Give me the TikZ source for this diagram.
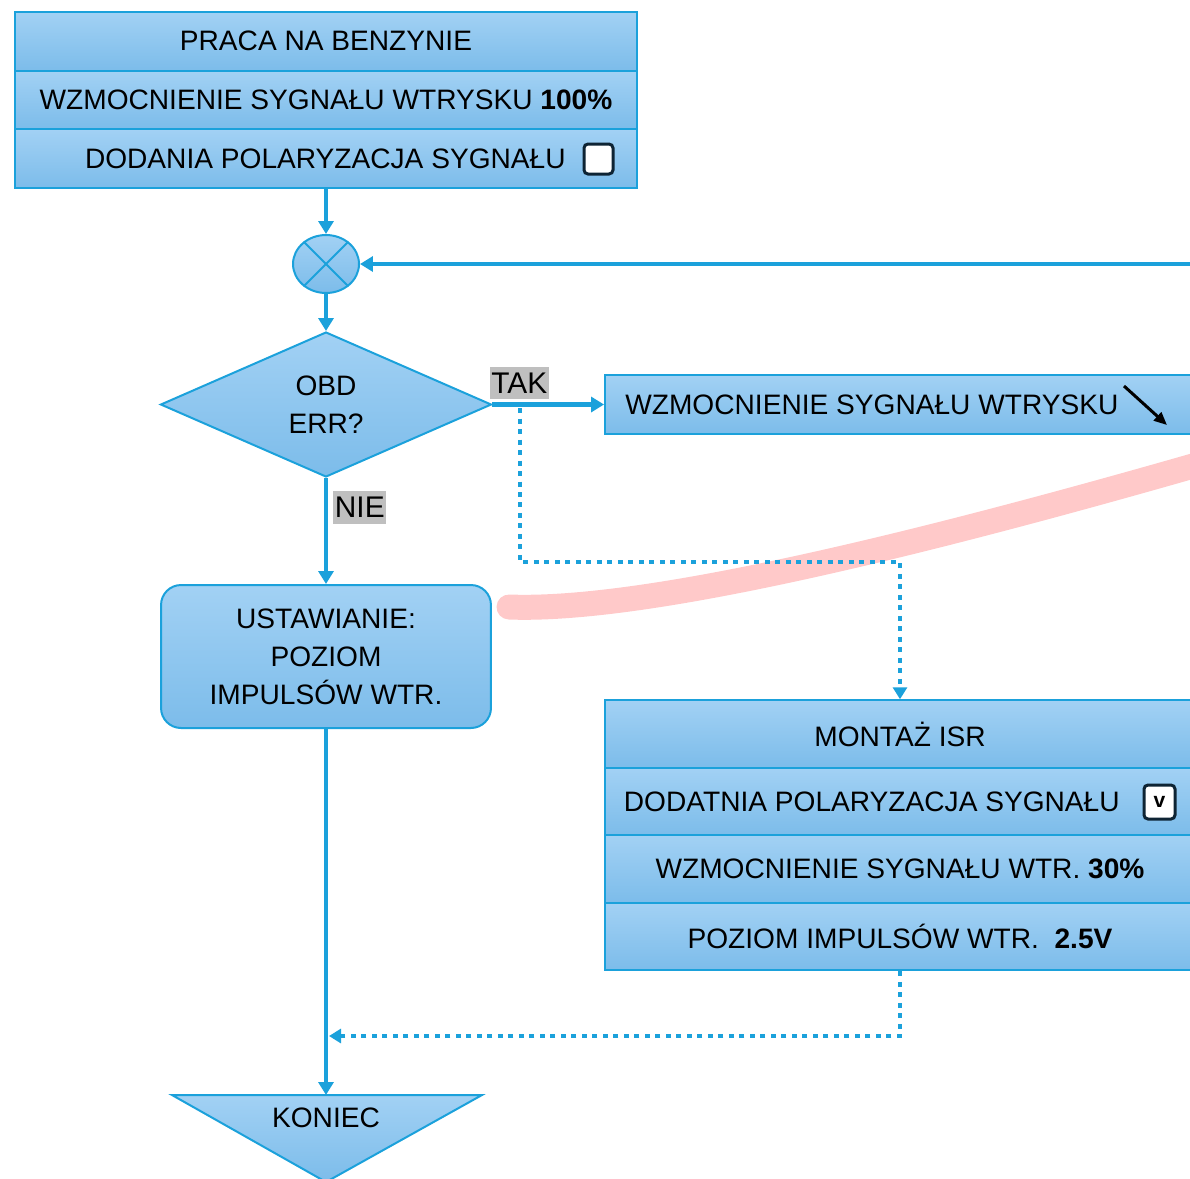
\documentclass[tikz,border=0pt]{standalone}
\usepackage{fontspec}
\setmainfont{Liberation Sans}
\usetikzlibrary{arrows.meta,shapes.geometric}

\definecolor{flowblue}{HTML}{1BA1DB}
\definecolor{filltop}{HTML}{A2D1F4}
\definecolor{fillbot}{HTML}{7CBCEA}
\definecolor{chkline}{HTML}{0E2434}
\definecolor{tagfill}{HTML}{BFBFBF}
\definecolor{strike}{HTML}{FFC9C9}

\tikzset{
	shaded/.style={draw=flowblue, line width=0.04cm, top color=filltop, bottom color=fillbot},
	leftrow/.style={shaded, rectangle, minimum width=12.46cm, minimum height=1.173cm, inner sep=0pt},
	rightrow/.style={shaded, rectangle, minimum width=11.8cm, minimum height=1.35cm, inner sep=0pt},
	checkbox/.style={rectangle, draw=chkline, fill=white, line width=0.06cm, rounded corners=0.08cm, inner sep=0pt},
	tag/.style={rectangle, fill=tagfill, inner xsep=1pt, inner ysep=0.12cm, font=\fontsize{17}{20}\selectfont},
	flowline/.style={draw=flowblue, line width=0.085cm, -{Triangle[length=0.26cm,width=0.3cm]}},
	dotline/.style={draw=flowblue, line width=0.085cm, dash pattern=on 0.1cm off 0.11cm, -{Triangle[length=0.24cm,width=0.28cm]}}
}

\begin{document}
\begin{tikzpicture}[x=0.02cm, y=-0.02cm, font=\fontsize{16}{21.6}\selectfont]
		
		\useasboundingbox (0,0) rectangle (1190,1178);
		\clip (0,0) rectangle (1190,1178);
		
		% Strike mark
		
		\draw[strike, line width=0.5cm, line cap=round] (509,607) .. controls (640,612) and (900,550) .. (1200,464);
		
		% Top stack
		
		\node[leftrow] (benz) at (326,41.3) {PRACA NA BENZYNIE};
		\node[leftrow] (wzm100) at (326,100) {WZMOCNIENIE SYGNAŁU WTRYSKU \textbf{100\%}};
		\node[leftrow] (polar) at (326,158.7) {};
		\node[anchor=east, inner sep=0pt] (polartxt) at (566,158.7) {DODANIA POLARYZACJA SYGNAŁU};
		\node[checkbox, minimum width=0.58cm, minimum height=0.6cm] (chk) at (598.5,159) {};
		
		\node[shaded, ellipse, minimum width=1.32cm, minimum height=1.16cm] (sum) at (326,264) {};
		\draw[flowblue, line width=0.04cm] (sum.135) -- (sum.-45);
		\draw[flowblue, line width=0.04cm] (sum.45) -- (sum.-135);
		\coordinate (fbin) at (1195,264);
		
		\node[shaded, diamond, minimum width=6.62cm, minimum height=2.9cm, inner sep=0pt, align=center] 
		(obd) at (326,404.5) {OBD\\ERR?};
		
		\node[shaded, rectangle, minimum width=11.8cm, minimum height=1.18cm] 
		(wzm) at (900,404.5) {};
		\node[anchor=west, inner sep=0pt] (wzmtxt) at (625,404.5) {WZMOCNIENIE SYGNAŁU WTRYSKU};
		\draw[black, line width=0.06cm, -{Triangle[length=0.26cm,width=0.22cm]}] (1124,386) -- (1167,425);
		
		\node[shaded, rectangle, rounded corners=0.4cm, minimum width=6.6cm, minimum height=2.86cm, align=center] 
		(ustaw) at (326,656.5) {USTAWIANIE:\\POZIOM\\IMPULSÓW WTR.};
		
		% Right stack
		
		\node[rightrow] (isr) at (900,734) {MONTAŻ ISR};
		\node[rightrow] (polarv) at (900,801.5) {};
		\node[anchor=east, inner sep=0pt] (polarvtxt) at (1120,801.5) {DODATNIA POLARYZACJA SYGNAŁU};
		\node[checkbox, minimum width=0.62cm, minimum height=0.68cm, font=\fontsize{12}{12}\selectfont\bfseries] 
		(chkv) at (1159.5,802) {v};
		\node[rightrow] (wzm30) at (900,869) {WZMOCNIENIE SYGNAŁU WTR. \textbf{30\%}};
		\node[rightrow] (poziom) at (900,936.5) {POZIOM IMPULSÓW WTR.\ \ \textbf{2.5V}};
		
		% End
		
		\shade[shaded] (172,1095) -- (482,1095) -- (326,1182) -- cycle;
		\node (koniec) at (326,1118) {KONIEC};
		\coordinate (kontop) at (326,1095);
		
		% Edges...
		
		\draw[flowline] (polar) -- (sum);
		\draw[flowline] (fbin) -- (sum);
		\draw[flowline] (sum) -- (obd);
		\draw[flowline] (obd) -- node[tag, above=0.06cm, pos=0.24]{TAK} (wzm);
		\draw[flowline] (obd) -- node[tag, right=0.1cm, pos=0.28]{NIE} (ustaw);
		\draw[flowline] (ustaw) -- (kontop);
		
		\coordinate (branch) at (520,408);
		\coordinate (merge) at (329,1036);
		\draw[dotline] (branch) -- ++(0,154) -| (isr);
		\draw[dotline] (poziom) |- (merge);
		
	\end{tikzpicture}
\end{document}
